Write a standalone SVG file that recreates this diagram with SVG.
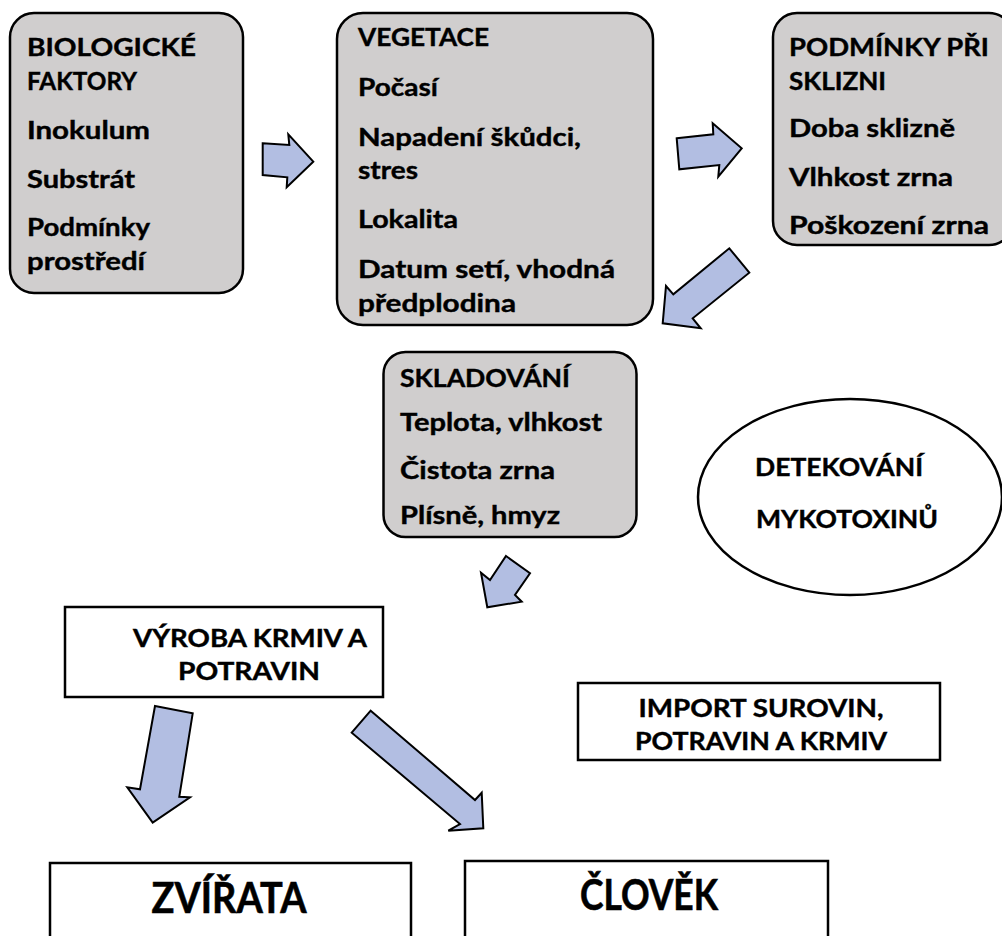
<svg xmlns="http://www.w3.org/2000/svg" width="1002" height="936" viewBox="0 0 1002 936">
<style>
.box{fill:#d0cece;stroke:#000;stroke-width:2.5}
.wbox{fill:#fff;stroke:#000;stroke-width:2.5}
.arr{fill:#b2bee2;stroke:#000;stroke-width:2;stroke-linejoin:miter}
text{font-family:Lato,"Open Sans","Liberation Sans",sans-serif;font-weight:bold;font-size:24px;fill:#000;stroke:#000;stroke-width:0.4}
.big{font-size:42px;stroke-width:0.6}
.c{text-anchor:middle}
</style>
<rect width="1002" height="936" fill="#fff"/>
<g id="connectors">
<polygon class="arr" points="262.7,143.3 289.3,145 288.3,134.3 313.3,161.7 286.7,187.3 287.3,177.3 262.7,175"/>
<polygon class="arr" points="676.7,138.3 713.3,134.3 712.7,123.3 741.7,148.3 718.3,176.7 719.3,165 679.3,169.3"/>
<polygon class="arr" points="729.3,248.3 749.3,272.7 692.7,318.3 700.7,328.3 662.7,323.3 666,286 673.3,294.3"/>
<polygon class="arr" points="506,556 530,573.3 515,595 521.7,601.7 487.3,607.3 481,572.7 490,580"/>
<polygon class="arr" points="155,706 192.7,713.3 179.3,796.7 190,797.3 152.7,822.7 127.3,787.3 140,789.3"/>
<polygon class="arr" points="370.7,710.7 475,800 481.7,792.7 483.3,828.3 448.3,830.7 460,824 351.7,732.7"/>
</g>
<g id="biologicke">
<rect class="box" x="10" y="13" width="233" height="280" rx="24"/>
<text x="27" y="56" textLength="169" lengthAdjust="spacingAndGlyphs">BIOLOGICKÉ</text>
<text x="27" y="90" textLength="110" lengthAdjust="spacingAndGlyphs">FAKTORY</text>
<text x="27" y="139" textLength="123" lengthAdjust="spacingAndGlyphs">Inokulum</text>
<text x="27" y="188" textLength="108" lengthAdjust="spacingAndGlyphs">Substrát</text>
<text x="27" y="236" textLength="123" lengthAdjust="spacingAndGlyphs">Podmínky</text>
<text x="27" y="270" textLength="118" lengthAdjust="spacingAndGlyphs">prostředí</text>
</g>
<g id="vegetace">
<rect class="box" x="337" y="13" width="316" height="312" rx="26"/>
<text x="358" y="46" textLength="131" lengthAdjust="spacingAndGlyphs">VEGETACE</text>
<text x="358" y="96" textLength="80" lengthAdjust="spacingAndGlyphs">Počasí</text>
<text x="358" y="146" textLength="223" lengthAdjust="spacingAndGlyphs">Napadení škůdci,</text>
<text x="358" y="179" textLength="60" lengthAdjust="spacingAndGlyphs">stres</text>
<text x="358" y="228" textLength="100" lengthAdjust="spacingAndGlyphs">Lokalita</text>
<text x="358" y="278" textLength="257" lengthAdjust="spacingAndGlyphs">Datum setí, vhodná</text>
<text x="358" y="312" textLength="158" lengthAdjust="spacingAndGlyphs">předplodina</text>
</g>
<g id="podminky">
<rect class="box" x="773" y="13" width="240" height="232" rx="24"/>
<text x="789" y="56" textLength="200" lengthAdjust="spacingAndGlyphs">PODMÍNKY PŘI</text>
<text x="789" y="90" textLength="97" lengthAdjust="spacingAndGlyphs">SKLIZNI</text>
<text x="789" y="137" textLength="166" lengthAdjust="spacingAndGlyphs">Doba sklizně</text>
<text x="789" y="186" textLength="164" lengthAdjust="spacingAndGlyphs">Vlhkost zrna</text>
<text x="789" y="234" textLength="200" lengthAdjust="spacingAndGlyphs">Poškození zrna</text>
</g>
<g id="skladovani">
<rect class="box" x="383.5" y="352" width="253" height="185" rx="22"/>
<text x="400" y="387" textLength="170" lengthAdjust="spacingAndGlyphs">SKLADOVÁNÍ</text>
<text x="400" y="431" textLength="202" lengthAdjust="spacingAndGlyphs">Teplota, vlhkost</text>
<text x="400" y="479" textLength="155" lengthAdjust="spacingAndGlyphs">Čistota zrna</text>
<text x="400" y="524" textLength="160" lengthAdjust="spacingAndGlyphs">Plísně, hmyz</text>
</g>
<g id="detekovani">
<ellipse cx="850" cy="497" rx="152" ry="98" fill="#fff" stroke="#000" stroke-width="2.5"/>
<text x="755" y="476" textLength="168" lengthAdjust="spacingAndGlyphs">DETEKOVÁNÍ</text>
<text x="756" y="528" textLength="182" lengthAdjust="spacingAndGlyphs">MYKOTOXINŮ</text>
</g>
<g id="vyroba">
<rect class="wbox" x="65" y="607" width="318" height="90"/>
<text class="c" x="250" y="647" textLength="234" lengthAdjust="spacingAndGlyphs">VÝROBA KRMIV A</text>
<text class="c" x="249" y="680" textLength="142" lengthAdjust="spacingAndGlyphs">POTRAVIN</text>
</g>
<g id="import">
<rect class="wbox" x="578" y="683" width="362" height="77"/>
<text class="c" x="761" y="717" textLength="245" lengthAdjust="spacingAndGlyphs">IMPORT SUROVIN,</text>
<text class="c" x="761" y="750" textLength="252" lengthAdjust="spacingAndGlyphs">POTRAVIN A KRMIV</text>
</g>
<g id="zvirata">
<rect class="wbox" x="50" y="863" width="361" height="90"/>
<text class="big c" x="229" y="913" textLength="155" lengthAdjust="spacingAndGlyphs">ZVÍŘATA</text>
</g>
<g id="clovek">
<rect class="wbox" x="465" y="861" width="363" height="90"/>
<text class="big c" x="649" y="910" textLength="138" lengthAdjust="spacingAndGlyphs">ČLOVĚK</text>
</g>
</svg>
